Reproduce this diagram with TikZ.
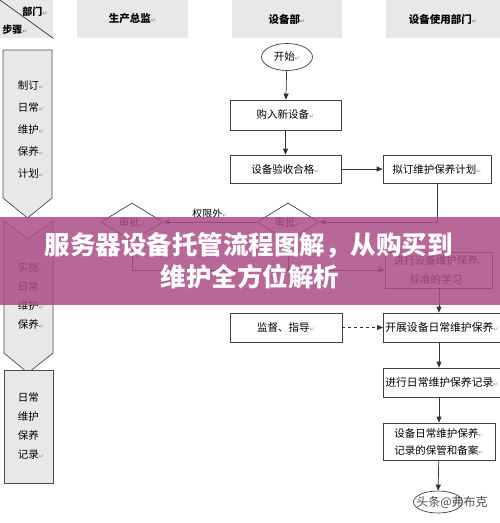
\documentclass[tikz,border=0pt]{standalone}
\usepackage{fontspec}
\usepackage{xcolor}
\setmainfont{Noto Sans CJK SC}
\newfontfamily\retfont{DejaVu Sans}
\newcommand{\ret}{{\retfont\fontsize{6}{6}\selectfont\color{black!45}↵}}
\definecolor{headgray}{RGB}{232,232,232}
\definecolor{bannerpink}{RGB}{172,78,136}
\usetikzlibrary{arrows.meta,positioning,shapes.geometric}

\begin{document}
\begin{tikzpicture}[x=1pt,y=-1pt,
 head/.style={fill=headgray,minimum height=38pt,inner sep=0pt,font=\bfseries\fontsize{10.5}{12}\selectfont},
 chev/.style={fill=headgray,draw=black!70,line width=0.7pt},
 chevtext/.style={align=left,inner sep=0pt},
 box/.style={draw=black!75,line width=0.7pt,rectangle,minimum height=29pt,inner sep=1pt,font=\fontsize{10.5}{12}\selectfont},
 decision/.style={diamond,draw=black!75,line width=0.7pt,aspect=1.6,inner sep=0pt,minimum width=62pt,minimum height=38pt,font=\fontsize{10.5}{12}\selectfont},
 terminal/.style={ellipse,draw=black!75,line width=0.7pt,inner sep=0pt,font=\fontsize{10.5}{12}\selectfont},
 flow/.style={draw=black!80,line width=0.7pt,-{Triangle[length=6pt,width=5pt]}},
 banner/.style={fill=bannerpink,opacity=0.86},
 title/.style={text=white,font=\bfseries\fontsize{25.5}{28}\selectfont,inner sep=0pt}]

 \useasboundingbox (0,0) rectangle (500,523);
 \clip (0,0) rectangle (500,523);

 \node[head,minimum width=53pt,anchor=north west] (corner) at (0,0) {};
 \draw[black!80,line width=0.7pt] (corner.north west) -- (corner.south east);
 \node[font=\bfseries\fontsize{10}{12}\selectfont,inner sep=0pt] (cornerdept) at (35,12) {部门\ret};
 \node[font=\bfseries\fontsize{10}{12}\selectfont,inner sep=0pt] (cornerstep) at (15,30) {步骤\ret};
 \node[head,minimum width=111pt] (hdirector) at (132.5,19) {生产总监\ret};
 \node[head,minimum width=110pt] (hequip) at (287,19) {设备部\ret};
 \node[head,minimum width=114pt] (huser) at (443,19) {设备使用部门\ret};

 \draw[chev] (3,50) -- (52,50) -- (52,198) -- (27.5,218) -- (3,198) -- cycle;
 \draw[chev] (4,221) -- (28,239) -- (53,221) -- (53,353) -- (28,373) -- (4,353) -- cycle;
 \draw[chev] (4,370) rectangle (53,483);
 \node[chevtext,font=\fontsize{10.5}{22}\selectfont] (stepplan) at (31,129.5) {制订\ret\\日常\ret\\维护\ret\\保养\ret\\计划\ret};
 \node[chevtext,font=\fontsize{10.5}{19}\selectfont] (stepdo) at (31,295.5) {实施\ret\\日常\ret\\维护\ret\\保养\ret};
 \node[chevtext,font=\fontsize{10.5}{19}\selectfont] (steprec) at (31,426) {日常\\维护\\保养\\记录\ret};

 \node[terminal,minimum width=51pt,minimum height=27pt] (start) at (287,57) {开始\ret};
 \node[box,minimum width=111pt,minimum height=30pt] (buy) at (285.5,115) {购入新设备\ret};
 \node[box,minimum width=111pt,minimum height=28pt] (accept) at (285.5,169) {设备验收合格\ret};
 \node[box,minimum width=108pt,minimum height=28pt] (plan) at (437,169) {拟订维护保养计划\ret};
 \node[decision] (approve1) at (132,222) {审批\ret};
 \node[decision] (approve2) at (288,222) {审批\ret};
 \node[box,minimum width=107pt,minimum height=36pt,align=center,font=\fontsize{10.5}{19}\selectfont] (study) at (438.5,270) {进行设备维护保养\ret\\标准的学习\ret};
 \node[box,minimum width=112pt] (supervise) at (286,327.5) {监督、指导\ret};
 \node[box,minimum width=130pt,anchor=west,align=left,text width=126pt,font=\fontsize{10.8}{12}\selectfont] (daily) at (383,327.5) {开展设备日常维护保养\ret};
 \node[box,minimum width=130pt,anchor=west,align=left,text width=126pt,font=\fontsize{10.8}{12}\selectfont] (record) at (383,382.5) {进行日常维护保养记录\ret};
 \node[box,minimum width=112pt,minimum height=37pt,align=center,font=\fontsize{10.5}{17}\selectfont] (archive) at (439,441.5) {设备日常维护保养\ret\\记录的保管和备案\ret};
 \node[terminal,minimum width=49pt,minimum height=22pt] (stop) at (438,502) {};

 \draw[flow] (start) -- (buy);
 \draw[flow] (buy) -- (accept);
 \draw[flow] (accept) -- (plan);
 \draw[flow] (plan.south) |- (approve2.east);
 \draw[flow] (approve2.west) -- node[above=3pt,font=\fontsize{10}{12}\selectfont,inner sep=0pt] (outside) {权限外\ret} (approve1.east);
 \draw[flow] (approve1.south) |- (study.west);
 \draw[draw=black!80,line width=0.7pt] (approve2.south) -- (approve2.south |- study.west);
 \draw[flow] (archive.north |- study.south) -- (archive.north |- daily.north);
 \draw[flow,dashed] (supervise) -- (daily);
 \draw[flow] (archive.north |- daily.south) -- (archive.north |- record.north);
 \draw[flow] (archive.north |- record.south) -- (archive.north);
 \draw[flow] (archive) -- (stop);
 \node[text=black!70,font=\fontsize{12}{12}\selectfont,inner sep=0pt] (mark) at (452,502) {头条@弗布克};

 \fill[banner] (0,217) rectangle (500,305);
 \node[title] (title1) at (249,245) {服务器设备托管流程图解，从购买到};
 \node[title] (title2) at (250,277) {维护全方位解析};
\end{tikzpicture}
\end{document}
